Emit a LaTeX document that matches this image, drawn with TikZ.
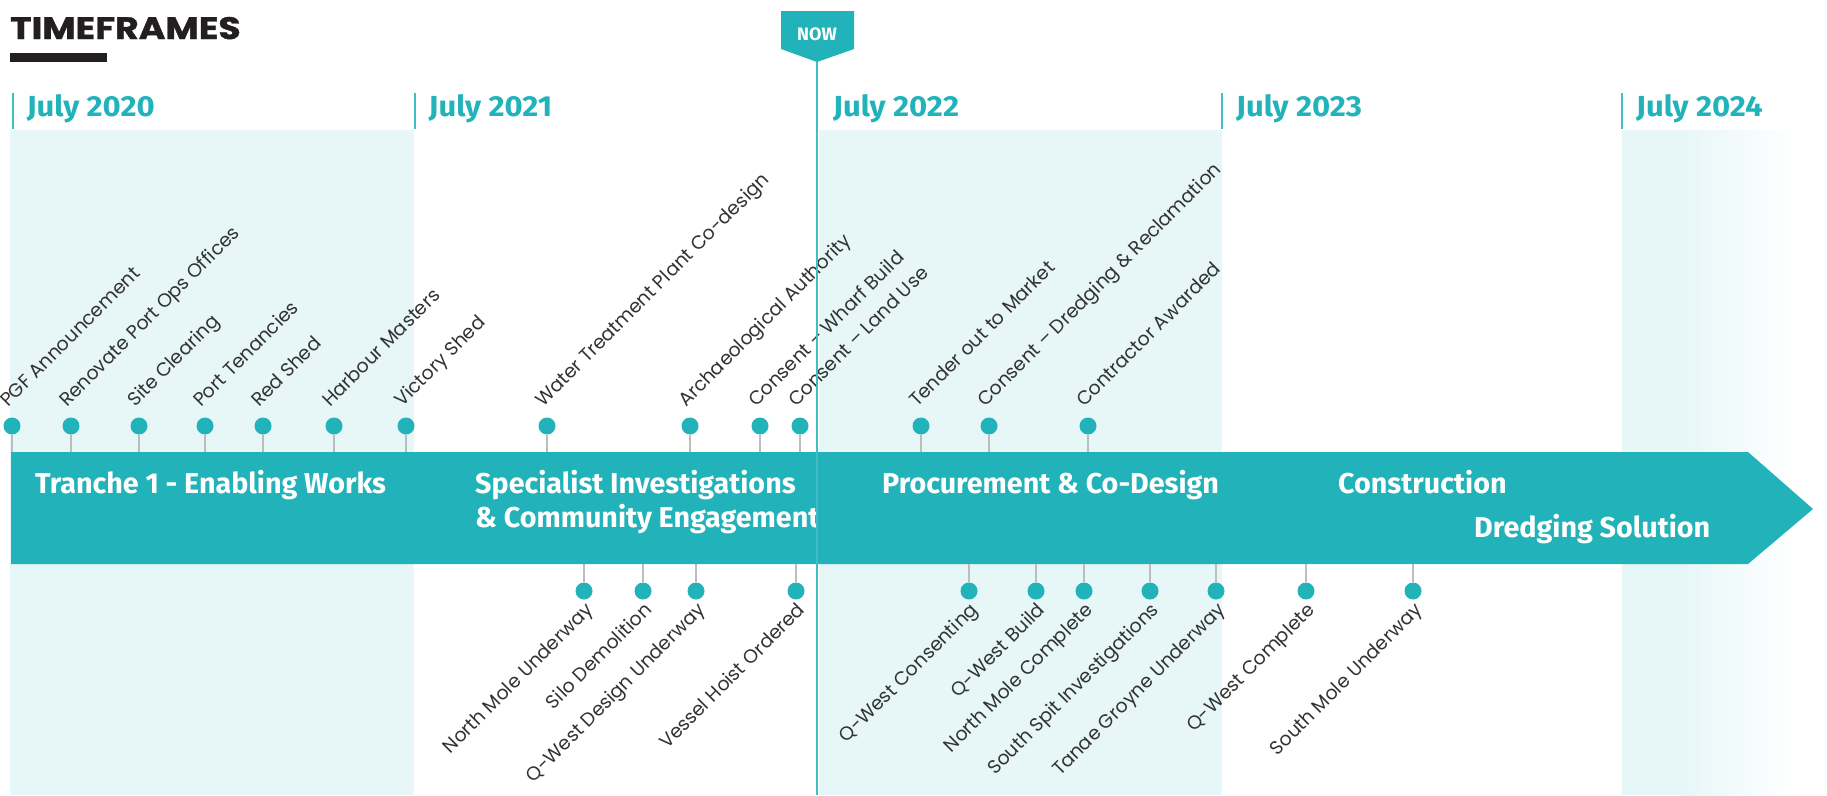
\documentclass[tikz,border=0pt]{standalone}
\usepackage{fontspec}
\setmainfont{Poppins}
\newfontfamily\headfont{Fira Sans}
\newfontfamily\yearfont{Fira Sans}[FakeStretch=1.07]
\newfontfamily\titlefont{Poppins}[FakeStretch=1.17,BoldFeatures={FakeBold=1.2}]
\definecolor{tealA}{HTML}{22B2B9}
\definecolor{tealL}{HTML}{3FBEC4}
\definecolor{shadeC}{HTML}{E7F6F7}
\definecolor{lblC}{HTML}{333333}
\definecolor{stemC}{HTML}{BDBDBD}
\definecolor{titleC}{HTML}{231F20}
\tikzset{
  dot/.style={circle,fill=tealA,minimum size=17,inner sep=0},
  stem/.style={draw=stemC,line width=1.5},
  toplbl/.style={rotate=45,anchor=base west,inner sep=0,text=lblC,font=\fontsize{19}{19}\selectfont},
  botlbl/.style={rotate=45,anchor=base east,inner sep=0,text=lblC,font=\fontsize{19}{19}\selectfont},
  head/.style={anchor=base west,inner sep=0,text=white,font=\headfont\bfseries\fontsize{28.7}{28.7}\selectfont},
  year/.style={anchor=base west,inner sep=0,text=tealA,font=\yearfont\bfseries\fontsize{29}{29}\selectfont},
  ytick/.style={draw=tealL,line width=2},
}
\begin{document}
\begin{tikzpicture}[x=1pt,y=-1pt]
\useasboundingbox (0,0) rectangle (1827,795);
% shaded year bands
\fill[shadeC] (10,130) rectangle (414,795);
\fill[shadeC] (819,130) rectangle (1222,795);
\fill[shadeC] (1622,130) rectangle (1682,795);
\shade[left color=shadeC,right color=white] (1681,130) rectangle (1795,795);
% title
\node[anchor=base west,inner sep=0,text=titleC,font=\titlefont\bfseries\fontsize{31}{31}\selectfont] (title) at (10,39) {TIMEFRAMES};
\fill[titleC] (10,53) rectangle (107,62);
% year ticks and labels
\foreach \n/\x/\yr in {a/12.6/2020,b/414.5/2021,d/1222/2023,e/1622/2024}{
  \draw[ytick] (\x,93) -- (\x,129);
  \node[year] (y\n) at (\x+14,116) {July \yr};
}
\node[year] (yc) at (833,116) {July 2022};
% arrow
\coordinate (atop) at (0,452);
\coordinate (abot) at (0,564);
\fill[tealA] (11,452) -- (1748,452) -- (1813,509) -- (1748,564) -- (11,564) -- cycle;
% top milestones
\foreach \n/\x/\t in {1/12/PGF Announcement,2/71/Renovate Port Ops Offices,3/139/Site Clearing,4/205/Port Tenancies,5/263/Red Shed,6/334/Harbour Masters,7/406/Victory Shed,8/547/Water Treatment Plant Co-design,9/690/Archaeological Authority,10/760/Consent – Wharf Build,11/800/Consent – Land Use,12/921/Tender out to Market,13/989/Consent – Dredging \& Reclamation,14/1088/Contractor Awarded}{
  \node[dot] (t\n) at (\x,426) {};
  \draw[stem] (t\n.south) -- (t\n |- atop);
  \node[toplbl] (tl\n) at (\x-4,408) {\t};
}
% bottom milestones
\foreach \n/\x/\t in {1/584/North Mole Underway,2/643/Silo Demolition,3/696/Q-West Design Underway,4/796/Vessel Hoist Ordered,5/969/Q-West Consenting,6/1036/Q-West Build,7/1084/North Mole Complete,8/1150/South Spit Investigations,9/1216/Tanae Groyne Underway,10/1306/Q-West Complete,11/1413/South Mole Underway}{
  \node[dot] (b\n) at (\x,591) {};
  \draw[stem] (b\n.north) -- (b\n |- abot);
  \node[botlbl] (bl\n) at (\x+10,611) {\t};
}
% phase headings
\node[head] (h1) at (35,493) {Tranche 1 - Enabling Works};
\node[head] (h2) at (475,493) {Specialist Investigations};
\begin{scope}
  \clip (400,500) rectangle (816,560);
  \node[head] (h2b) at (475,527) {\& Community Engagement};
\end{scope}
\node[head] (h3) at (882,493) {Procurement \& Co-Design};
\node[head] (h4) at (1338,493) {Construction};
\node[head] (h5) at (1474,537) {Dredging Solution};
% NOW marker
\coordinate (nowtip) at (817,62);
\coordinate (nowend) at (817,795);
\fill[tealA] (781,11) -- (854,11) -- (854,49) -- (nowtip) -- (781,49) -- cycle;
\node[inner sep=0,text=white,font=\headfont\bfseries\fontsize{18}{18}\selectfont] (now) at (817,34) {NOW};
\draw[tealL,line width=2.5] (nowtip) -- (nowend);
\end{tikzpicture}
\end{document}
